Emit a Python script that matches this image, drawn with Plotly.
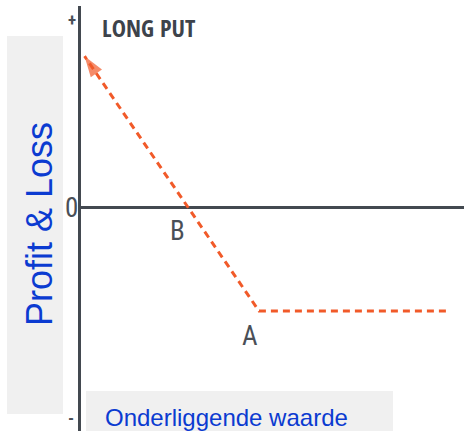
import plotly.graph_objects as go

# ---- data (long put: strike A = 100, premium = 40, break-even B = 60) ----
underlying = [205, 100, 2]
profit_loss = [-40, -40, 58]
point_labels = ["A", "B"]
point_x = [100, 60]
point_y = [-40, 0]
y_tick_text = ["+", "0", "-"]
title_text = "LONG PUT"
y_title = "Profit & Loss"
x_title = "Onderliggende waarde"

W, H = 464, 431
L, R, T, B = 81, 0, 6, 0
PW, PH = W - L - R, H - T - B


def px(x):
    return (x - L) / PW


def py(y):
    return 1 - (y - T) / PH


ORANGE = "#f15a29"
DARK = "#434950"
BLUE = "#0b3bd1"
COND_BOLD = "Open Sans Condensed, Roboto Condensed, sans-serif"
COND = "Roboto Condensed, DejaVu Sans Condensed, sans-serif"
ARIAL = "Liberation Sans, Arial, sans-serif"

fig = go.Figure()
fig.add_trace(go.Scatter(
    x=underlying, y=profit_loss, mode="lines+markers",
    line=dict(color=ORANGE, width=3, dash="7px,5px"),
    marker=dict(symbol=["circle", "circle", "arrow"], size=[0, 0, 22],
                angleref="previous", color=ORANGE, line=dict(width=0)),
    hoverinfo="skip", showlegend=False,
))

shapes = [
    dict(type="rect", xref="paper", yref="paper", x0=px(7), x1=px(63),
         y0=py(414), y1=py(36), fillcolor="#f0f0f0", line_width=0, layer="below"),
    dict(type="rect", xref="paper", yref="paper", x0=px(86), x1=px(393),
         y0=py(431), y1=py(391), fillcolor="#f0f0f0", line_width=0, layer="below"),
]

ann = []
ann.append(dict(text="<b>" + title_text + "</b>", xref="paper", yref="paper",
                x=px(100), y=py(28), xanchor="left", yanchor="middle", showarrow=False,
                font=dict(family=COND_BOLD, size=24, color="#3d434b")))
# "+" at top
ann.append(dict(text="<b>" + y_tick_text[0] + "</b>", xref="paper", yref="paper",
                x=px(71.5), y=py(20), xanchor="center", yanchor="middle", showarrow=False,
                font=dict(family=COND, size=17, color="#4a4f57")))
# "0" at the zero line
ann.append(dict(text=y_tick_text[1], xref="paper", yref="paper",
                x=px(71), y=py(208), xanchor="center", yanchor="middle", showarrow=False,
                font=dict(family=COND, size=27, color="#4a4f57")))
# "-" at bottom
ann.append(dict(text="<b>" + y_tick_text[2] + "</b>", xref="paper", yref="paper",
                x=px(71), y=py(430), xanchor="center", yanchor="bottom", showarrow=False,
                font=dict(family=COND, size=17, color="#4a4f57")))
for lab, xx, yy in zip(point_labels, point_x, point_y):
    ann.append(dict(text=lab, x=xx, y=yy, xref="x", yref="y",
                    xanchor="center", yanchor="top", showarrow=False,
                    xshift=-10 if lab == "B" else -9, yshift=-6 if lab == "B" else -7,
                    font=dict(family=COND, size=27, color="#4a4f57")))
ann.append(dict(text=y_title, xref="paper", yref="paper", x=px(39), y=py(224),
                xanchor="center", yanchor="middle", textangle=-90, showarrow=False,
                font=dict(family=ARIAL, size=36, color=BLUE)))
ann.append(dict(text=x_title, xref="paper", yref="paper", x=px(103), y=py(417),
                xanchor="left", yanchor="middle", showarrow=False,
                font=dict(family=ARIAL, size=24, color=BLUE)))

fig.update_layout(
    width=W, height=H, margin=dict(l=L, r=R, t=T, b=B),
    paper_bgcolor="white", plot_bgcolor="white",
    shapes=shapes, annotations=ann, showlegend=False,
    xaxis=dict(range=[0, PW / 1.78], showgrid=False, zeroline=False, showline=False,
               showticklabels=False, ticks="", fixedrange=True),
    yaxis=dict(range=[-(H - 207) / 2.6, (207 - T) / 2.6], showgrid=False,
               zeroline=True, zerolinecolor=DARK, zerolinewidth=3,
               showline=True, linecolor=DARK, linewidth=3,
               showticklabels=False, ticks="", fixedrange=True),
)

fig.write_html("out.html", config={"displayModeBar": False},
               post_script="document.body.style.margin='0';document.body.style.overflow='hidden';")
